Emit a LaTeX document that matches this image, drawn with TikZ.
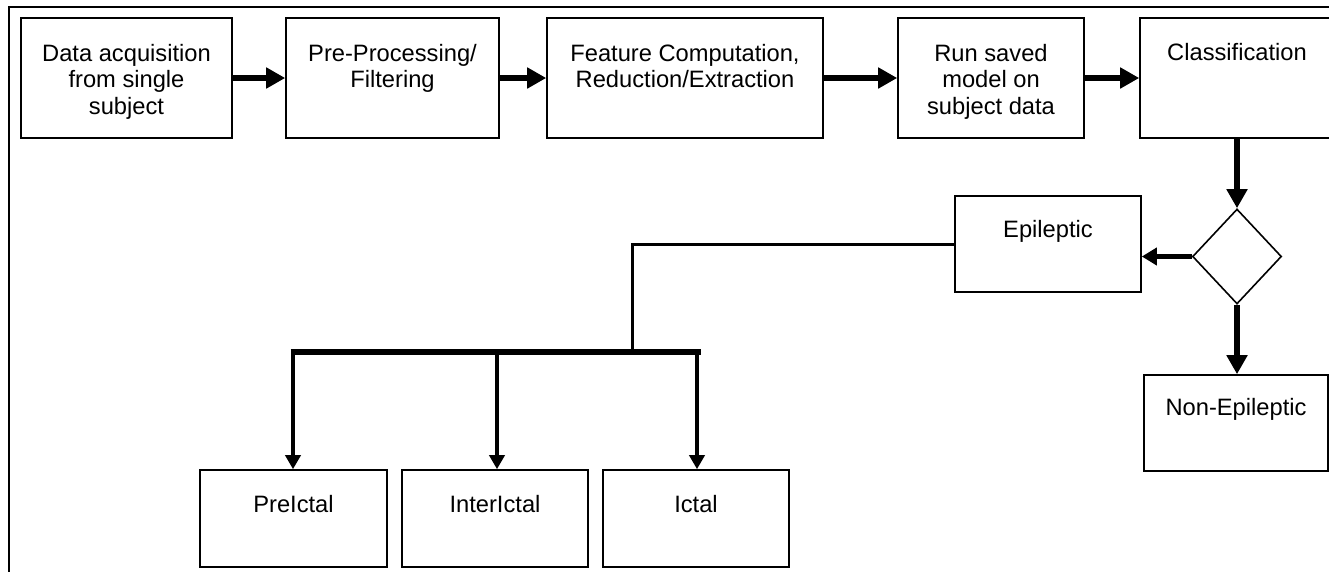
\documentclass[tikz,border=0pt]{standalone}
\usepackage{fontspec}
\setmainfont{Liberation Sans}
\usetikzlibrary{arrows.meta,shapes.geometric}
\begin{document}
\begin{tikzpicture}[x=1pt,y=-1pt,
  box/.style={draw, rectangle, line width=1.6pt, inner sep=0pt},
  txt/.style={font=\fontsize{23.7}{26.6}\selectfont, align=center, inner sep=0pt},
  bigarrow/.style={line width=6pt, -{Triangle[length=19pt,width=20pt]}},
  medarrow/.style={line width=4.5pt, -{Triangle[length=15pt,width=17pt]}},
  droparrow/.style={line width=4pt, -{Triangle[length=14pt,width=15pt]}},
  frame/.style={line width=1.6pt}
]
\useasboundingbox (0,0) rectangle (1329,571);
\fill[white] (0,0) rectangle (1329,571);

% outer frame (partly cut off)
\draw[frame] (9,600) -- (9,7) -- (1360,7);

% top row
\node[box, minimum width=211pt, minimum height=120pt] (b1) at (126.5,78) {};
\node[box, minimum width=213pt, minimum height=120pt] (b2) at (392.5,78) {};
\node[box, minimum width=276pt, minimum height=120pt] (b3) at (685,78) {};
\node[box, minimum width=186pt, minimum height=120pt] (b4) at (991,78) {};
\node[box, minimum width=194pt, minimum height=120pt] (b5) at (1237,78) {};

\node[txt, anchor=north] (t1) at ([yshift=-26.8pt]b1.north) {Data acquisition\\from single\\subject};
\node[txt, anchor=north] (t2) at ([yshift=-26.8pt]b2.north) {Pre-Processing/\\Filtering};
\node[txt, anchor=north] (t3) at ([yshift=-26.8pt]b3.north) {Feature Computation,\\Reduction/Extraction};
\node[txt, anchor=north] (t4) at ([yshift=-26.8pt]b4.north) {Run saved\\model on\\subject data};
\node[txt, anchor=north] (t5) at ([yshift=-25.5pt]b5.north) {Classification};

% decision
\node[draw, diamond, line width=1.6pt, inner sep=0pt, minimum width=89pt, minimum height=95pt] (dia) at (1237,256.5) {};

\node[box, minimum width=186pt, minimum height=96pt] (ep) at (1048,244) {};
\node[txt, anchor=north] (tep) at ([yshift=-24.7pt]ep.north) {Epileptic};

\node[box, minimum width=184pt, minimum height=96pt] (ne) at (1236,423) {};
\node[txt, anchor=north] (tne) at ([yshift=-24.4pt]ne.north) {Non-Epileptic};

% bottom row
\node[box, minimum width=187pt, minimum height=97pt] (pi) at (293.5,518.5) {};
\node[box, minimum width=186pt, minimum height=97pt] (ii) at (495,518.5) {};
\node[box, minimum width=186pt, minimum height=97pt] (ic) at (696,518.5) {};
\node[txt, anchor=north] (tpi) at ([yshift=-26pt]pi.north) {PreIctal};
\node[txt, anchor=north] (tii) at ([yshift=-26pt]ii.north) {InterIctal};
\node[txt, anchor=north] (tic) at ([yshift=-26pt]ic.north) {Ictal};

% bus coordinates
\coordinate (bl) at (290.5,352);
\coordinate (br) at (700.5,352);
\coordinate (j) at (632,352);

% connectors
\draw[bigarrow] (b1) -- (b2);
\draw[bigarrow] (b2) -- (b3);
\draw[bigarrow] (b3) -- (b4);
\draw[bigarrow] (b4) -- (b5);
\draw[bigarrow] (b5) -- (dia);
\draw[medarrow] (dia.west) -- (dia.west -| ep.east);
\draw[bigarrow] (dia.south) -- (dia.south |- ne.north);
\draw[line width=3pt] (ep.west) -| (j);
\draw[line width=6pt] (bl) -- (br);
\draw[droparrow] ([xshift=-0.5pt]pi.north |- bl) -- ([xshift=-0.5pt]pi.north);
\draw[droparrow] ([xshift=2pt]ii.north |- bl) -- ([xshift=2pt]ii.north);
\draw[droparrow] ([xshift=1pt]ic.north |- bl) -- ([xshift=1pt]ic.north);
\end{tikzpicture}
\end{document}
